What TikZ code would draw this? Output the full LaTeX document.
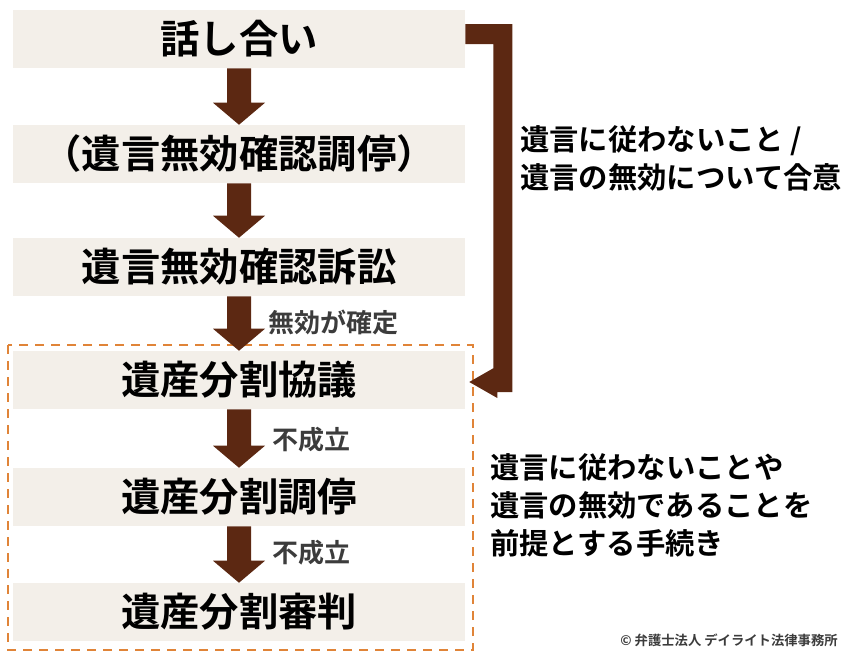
\documentclass[tikz,border=0pt]{standalone}
\usepackage{fontspec}
\newfontfamily\jp{Noto Sans CJK JP Bold}
\usetikzlibrary{calc}
\definecolor{brn}{RGB}{92,40,18}
\definecolor{boxc}{RGB}{243,239,233}
\definecolor{org}{RGB}{224,132,56}
\definecolor{lbl}{RGB}{60,60,60}
\tikzset{
  stepbox/.style={fill=boxc,minimum width=452*0.75pt,minimum height=58*0.75pt,inner sep=0pt,font=\jp\fontsize{29.5}{30}\selectfont},
  sidetxt/.style={anchor=west,font=\jp\fontsize{22}{28.5}\selectfont,align=left,inner sep=0pt},
  lab/.style={anchor=west,text=lbl,font=\jp\fontsize{19.5}{20}\selectfont,inner sep=0pt},
}
\newcommand{\blockdown}[2]{%
  \fill[brn] ($(#1.south)+(-12,0)$) -- ($(#2.north)+(-12,-22)$) -- ($(#2.north)+(-26,-22)$) -- (#2.north)
   -- ($(#2.north)+(26,-22)$) -- ($(#2.north)+(12,-22)$) -- ($(#1.south)+(12,0)$) -- cycle;}
\begin{document}
\begin{tikzpicture}[x=0.75pt,y=-0.75pt]
\useasboundingbox (0,0) rectangle (850,657);
\node[stepbox] (b1) at (239,39) {話し合い};
\node[stepbox] (b2) at (239,154) {（遺言無効確認調停）};
\node[stepbox] (b3) at (239,267) {遺言無効確認訴訟};
\node[stepbox] (b4) at (239,380) {遺産分割協議};
\node[stepbox] (b5) at (239,497) {遺産分割調停};
\node[stepbox] (b6) at (239,612) {遺産分割審判};
\draw[org,line width=2.2pt,dash pattern=on 7pt off 5pt] (8,345) rectangle (473,650);
\blockdown{b1}{b2}
\blockdown{b2}{b3}
\blockdown{b3}{b4}
\blockdown{b4}{b5}
\blockdown{b5}{b6}
\coordinate (ra) at ($(b1.east)+(0,-5)$);
\coordinate (rb) at ($(b4.east)+(4,2)$);
\fill[brn] ($(ra)+(0,-10)$) -- ($(ra)+(47,-10)$) |- ($(rb)+(28,10)$) -- ($(rb)+(28,16)$) -- (rb)
  -- ($(rb)+(28,-16)$) -- ($(rb)+(28,-10)$) -| ($(ra)+(28,10)$) -- ($(ra)+(0,10)$) -- cycle;
\node[lab] (l1) at (268,322) {無効が確定};
\node[lab] (l2) at (272,440) {不成立};
\node[lab] (l3) at (272,553) {不成立};
\node[sidetxt] (s1) at (520,158) {遺言に従わないこと /\\遺言の無効について合意};
\node[sidetxt] (s2) at (490,505) {遺言に従わないことや\\遺言の無効であることを\\前提とする手続き};
\node[anchor=east,inner sep=0pt,text=lbl,font=\jp\fontsize{10}{11}\selectfont] (cp) at (838,640) {© 弁護士法人 デイライト法律事務所};
\end{tikzpicture}
\end{document}
